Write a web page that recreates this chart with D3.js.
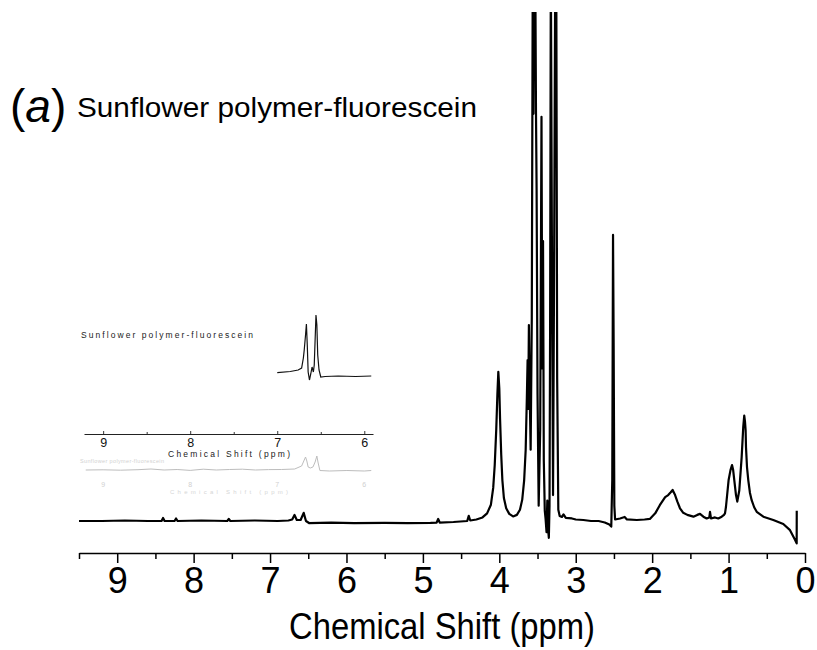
<!DOCTYPE html>
<html>
<head>
<meta charset="utf-8">
<script src="https://cdn.jsdelivr.net/npm/d3@7"></script>
<style>
  body { margin: 0; background: #fff; }
  svg { display: block; font-family: "Liberation Sans", Arial, sans-serif; }
</style>
</head>
<body>
<div id="chart"></div>
<script>
// Main 1H NMR spectrum (ppm, intensity; 100 = top of the plot)
const shift = [
  9.50, 9.20, 8.90, 8.60, 8.42, 8.40, 8.38, 8.25, 8.23, 8.21, 7.90, 7.56, 7.54, 7.52, 7.20, 6.90,
  6.76, 6.71, 6.68, 6.65, 6.60, 6.56, 6.53, 6.49, 6.20, 5.90, 5.50, 5.20, 4.90, 4.82, 4.80, 4.78,
  4.60, 4.42, 4.40, 4.38, 4.30, 4.22, 4.16, 4.11, 4.08, 4.06, 4.04, 4.025, 4.013, 4.00, 3.99, 3.975,
  3.96, 3.94, 3.91, 3.87, 3.82, 3.77, 3.73, 3.70, 3.675, 3.655, 3.64, 3.63, 3.622, 3.613, 3.603, 3.59,
  3.575, 3.562, 3.553, 3.545, 3.53, 3.52, 3.512, 3.50, 3.485, 3.465, 3.448, 3.438, 3.428, 3.418, 3.405, 3.395,
  3.382, 3.372, 3.362, 3.352, 3.343, 3.335, 3.326, 3.312, 3.297, 3.283, 3.268, 3.255, 3.243, 3.228, 3.21, 3.18,
  3.16, 3.13, 3.05, 3.00, 2.90, 2.80, 2.70, 2.62, 2.56, 2.535, 2.522, 2.512, 2.504, 2.495, 2.485, 2.42,
  2.36, 2.33, 2.20, 2.10, 2.03, 1.96, 1.90, 1.83, 1.79, 1.76, 1.732, 1.70, 1.67, 1.636, 1.593, 1.54,
  1.46, 1.41, 1.374, 1.33, 1.287, 1.252, 1.243, 1.23, 1.178, 1.135, 1.09, 1.06, 1.047, 1.034, 1.00, 0.975,
  0.955, 0.94, 0.925, 0.903, 0.886, 0.86, 0.829, 0.808, 0.795, 0.785, 0.777, 0.772, 0.759, 0.742, 0.72, 0.698,
  0.665, 0.632, 0.545, 0.415, 0.284, 0.196, 0.131, 0.109, 0.108
];
const intensity = [
  0, 0, 0.1, 0, 0, 0.6, 0, 0, 0.5, 0, 0.1, 0, 0.4, 0, 0.1, 0,
  0.1, 0.3, 1.2, 0.2, 0.2, 1.6, 0, -0.4, -0.3, -0.4, -0.35, -0.4, -0.35, -0.3, 0.4, -0.3,
  -0.2, 0, 1.0, 0.1, 0.3, 0.7, 1.5, 3.2, 6.5, 11, 18, 25, 29.3, 26, 20, 13,
  8, 4.5, 2.5, 1.4, 0.9, 1.2, 2.2, 4.2, 8, 14, 24, 31.6, 22, 38.5, 26, 14,
  40, 110, 80, 110, 110, 80, 65, 25, 3, 18, 79.4, 30, 55, 12, 2, 0.5,
  -2.2, 4, -1.5, -3.3, 3, 40, 110, 55, 5.1, 50, 110, 110, 28, 2.2, 1.0, 0.8,
  1.3, 0.6, 0.5, 0.3, 0.2, 0, 0, -0.3, -0.7, -1.1, 8, 56.2, 35, 3, 0.3, 0.5,
  0.8, 0.3, 0.2, 0.3, 0.4, 1.5, 3.1, 4.7, 5.1, 5.6, 6.1, 5.1, 3.8, 2.5, 1.6, 1.2,
  0.85, 1.2, 1.4, 0.85, 0.5, 0.7, 1.8, 0.5, 0.7, 0.5, 0.85, 1.2, 1.5, 2.8, 8, 10,
  11, 10, 8, 5.1, 3.8, 6, 12.5, 18.5, 20.7, 19.5, 17.8, 14.5, 10.6, 8, 5.5, 4.1,
  2.7, 1.8, 0.85, 0.2, -0.6, -1.8, -3.7, -4.4, 2.0
];

// Inset: aromatic region of the same sample
const insetShift = [
  7.00, 6.85, 6.76, 6.72, 6.70, 6.69, 6.675, 6.665, 6.655, 6.645, 6.63, 6.615, 6.60,
  6.585, 6.575, 6.565, 6.555, 6.545, 6.535, 6.52, 6.50, 6.45, 6.30, 6.10, 5.92
];
const insetIntensity = [
  3.3, 4.5, 6, 8, 18, 26, 41, 52, 31, 4, -4, 2, 9,
  4, 11, 36, 61, 51, 21, 6, -1, -0.5, 0, -0.5, 0
];

// Faint copy of the inset trace printed below it
const ghostShift = [
  9.20, 9.00, 8.80, 8.60, 8.45, 8.30, 8.15, 8.00, 7.85, 7.70, 7.55, 7.40, 7.25, 7.10, 6.95, 6.80,
  6.72, 6.70, 6.675, 6.66, 6.645, 6.62, 6.59, 6.565, 6.545, 6.53, 6.51, 6.40, 6.20, 6.00, 5.92
];
const ghostIntensity = [
  1, 1.2, 0.8, 1.3, 2, 1, 1.5, 0.6, 1.8, 1, 1.5, 1.8, 1, 1.4, 1.5, 2,
  5, 9, 14, 10, 4, 3, 4, 9, 15, 8, 0.5, 0, 0.5, 0, 0.5
];

// Tick labels
const mainTicks = [9, 8, 7, 6, 5, 4, 3, 2, 1, 0];
const mainMinorTicks = [9.5, 8.5, 7.5, 6.5, 5.5, 4.5, 3.5, 2.5, 1.5, 0.5];
const insetTicks = [9, 8, 7, 6];
const insetMinorTicks = [8.5, 7.5, 6.5];

const width = 817;
const height = 650;

const svg = d3.select("#chart")
  .append("svg")
  .attr("width", width)
  .attr("height", height);

// Scales
const x = d3.scaleLinear().domain([9.5, 0]).range([79, 805]);
const y = d3.scaleLinear().domain([0, 100]).range([521, 12]);

svg.append("clipPath").attr("id", "plot-clip")
  .append("rect")
  .attr("x", 79).attr("y", 12)
  .attr("width", 805 - 79).attr("height", 553 - 12);

// Main spectrum
const mainPts = shift.map((s, i) => [s, intensity[i]]);
svg.append("path")
  .datum(mainPts)
  .attr("clip-path", "url(#plot-clip)")
  .attr("fill", "none")
  .attr("stroke", "#000")
  .attr("stroke-width", 2.2)
  .attr("stroke-linejoin", "round")
  .attr("d", d3.line().x(d => x(d[0])).y(d => y(d[1])));

// Bottom axis
const axisY = 553;
const gMinor = svg.append("g")
  .attr("transform", `translate(0,${axisY})`)
  .call(d3.axisBottom(x).tickValues(mainMinorTicks).tickSize(6).tickFormat(""));
gMinor.select(".domain").remove();
gMinor.selectAll("line").attr("stroke", "#000").attr("stroke-width", 1.5);

const gAxis = svg.append("g")
  .attr("transform", `translate(0,${axisY})`)
  .call(d3.axisBottom(x).tickValues(mainTicks).tickSize(10).tickSizeOuter(0)
    .tickPadding(4.5).tickFormat(d3.format("d")));
gAxis.select(".domain").attr("stroke", "#000").attr("stroke-width", 1.5);
gAxis.selectAll("line").attr("stroke", "#000").attr("stroke-width", 1.5);
gAxis.selectAll("text")
  .attr("fill", "#000")
  .style("font-size", "36px")
  .style("font-family", "'Liberation Sans', Arial, sans-serif");

svg.append("text")
  .attr("x", 442)
  .attr("y", 639)
  .attr("text-anchor", "middle")
  .attr("textLength", 306)
  .attr("lengthAdjust", "spacingAndGlyphs")
  .style("font-size", "36px")
  .text("Chemical Shift (ppm)");

// Panel label and title
const title = svg.append("text")
  .attr("x", 10)
  .attr("y", 122)
  .style("font-size", "46px");
title.append("tspan").text("(");
title.append("tspan").style("font-style", "italic").text("a");
title.append("tspan").text(")");

svg.append("text")
  .attr("x", 77)
  .attr("y", 117)
  .attr("textLength", 400)
  .attr("lengthAdjust", "spacingAndGlyphs")
  .style("font-size", "28.5px")
  .text("Sunflower polymer-fluorescein");

// ---- Inset ----
const xi = d3.scaleLinear().domain([9.22, 5.9]).range([84, 373]);
const yi = d3.scaleLinear().domain([0, 60]).range([376, 316]);
const yg = d3.scaleLinear().domain([0, 20]).range([471, 451]);

svg.append("text")
  .attr("x", 81)
  .attr("y", 338)
  .attr("textLength", 172)
  .attr("lengthAdjust", "spacing")
  .attr("fill", "#222")
  .style("font-size", "8.5px")
  .text("Sunflower polymer-fluorescein");

svg.append("path")
  .datum(insetShift.map((s, i) => [s, insetIntensity[i]]))
  .attr("fill", "none")
  .attr("stroke", "#111")
  .attr("stroke-width", 1.2)
  .attr("d", d3.line().x(d => xi(d[0])).y(d => yi(d[1])));

const insetAxisY = 434;
const giMinor = svg.append("g")
  .attr("transform", `translate(0,${insetAxisY})`)
  .call(d3.axisBottom(xi).tickValues(insetMinorTicks).tickSize(-2).tickFormat(""));
giMinor.select(".domain").remove();
giMinor.selectAll("line").attr("stroke", "#333");

const giAxis = svg.append("g")
  .attr("transform", `translate(0,${insetAxisY})`)
  .call(d3.axisBottom(xi).tickValues(insetTicks).tickSize(-3).tickSizeOuter(0)
    .tickPadding(4.5).tickFormat(d3.format("d")));
giAxis.select(".domain").attr("stroke", "#222").attr("stroke-width", 1.2);
giAxis.selectAll("line").attr("stroke", "#333");
giAxis.selectAll("text")
  .attr("fill", "#111")
  .style("font-size", "12.5px")
  .style("font-family", "'Liberation Sans', Arial, sans-serif");

svg.append("text")
  .attr("x", 229)
  .attr("y", 457)
  .attr("text-anchor", "middle")
  .attr("textLength", 122)
  .attr("lengthAdjust", "spacing")
  .attr("fill", "#222")
  .style("font-size", "8.5px")
  .text("Chemical Shift (ppm)");

// faint duplicate below the inset axis
svg.append("text")
  .attr("x", 80)
  .attr("y", 463)
  .attr("textLength", 84)
  .attr("lengthAdjust", "spacing")
  .attr("fill", "#d2d2d2")
  .style("font-size", "5.5px")
  .text("Sunflower polymer-fluorescein");

svg.append("path")
  .datum(ghostShift.map((s, i) => [s, ghostIntensity[i]]))
  .attr("fill", "none")
  .attr("stroke", "#bdbdbd")
  .attr("stroke-width", 1)
  .attr("d", d3.line().x(d => xi(d[0])).y(d => yg(d[1])));

svg.append("g")
  .selectAll("text")
  .data(insetTicks)
  .join("text")
  .attr("x", d => xi(d))
  .attr("y", 487)
  .attr("text-anchor", "middle")
  .attr("fill", "#d0d0d0")
  .style("font-size", "7px")
  .text(d => d);

svg.append("text")
  .attr("x", 229)
  .attr("y", 494)
  .attr("text-anchor", "middle")
  .attr("textLength", 118)
  .attr("lengthAdjust", "spacing")
  .attr("fill", "#d6d6d6")
  .style("font-size", "6px")
  .text("Chemical Shift (ppm)");
</script>
</body>
</html>
